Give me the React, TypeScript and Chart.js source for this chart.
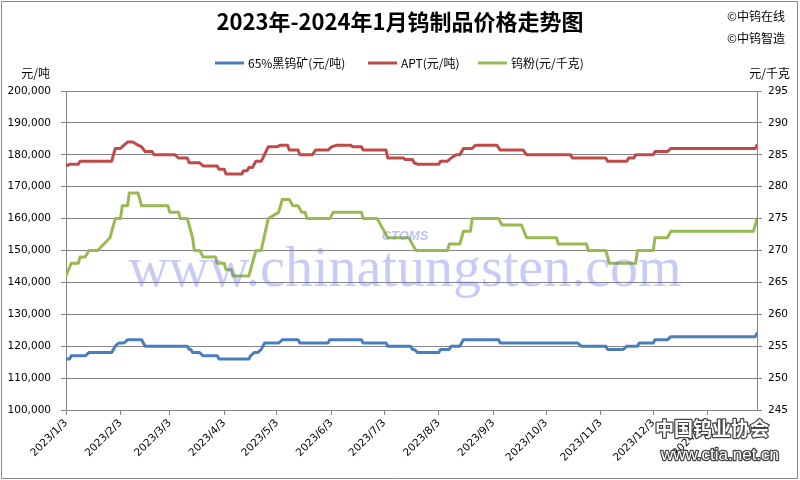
import React, { useEffect, useRef } from "react";
import { Chart, registerables } from "chart.js";

Chart.register(...registerables);

// ---------------- DATA ----------------
const titleText = "2023年-2024年1月钨制品价格走势图";
const seriesNames = ["65%黑钨矿(元/吨)", "APT(元/吨)", "钨粉(元/千克)"];

const xTickLabels = [
  "2023/1/3", "2023/2/3", "2023/3/3", "2023/4/3", "2023/5/3", "2023/6/3", "2023/7/3",
  "2023/8/3", "2023/9/3", "2023/10/3", "2023/11/3", "2023/12/3", "2024/1/3",
];

const oreDates = [
  "2023/1/3", "2023/1/5", "2023/1/6", "2023/1/14", "2023/1/16", "2023/1/29", "2023/1/31", "2023/2/2",
  "2023/2/5", "2023/2/7", "2023/2/15", "2023/2/17", "2023/3/13", "2023/3/14", "2023/3/15", "2023/3/16",
  "2023/3/20", "2023/3/22", "2023/3/30", "2023/3/31", "2023/4/17", "2023/4/18", "2023/4/20", "2023/4/22",
  "2023/4/24", "2023/4/26", "2023/5/4", "2023/5/6", "2023/5/15", "2023/5/16", "2023/6/1", "2023/6/2",
  "2023/6/20", "2023/6/21", "2023/7/4", "2023/7/5", "2023/7/18", "2023/7/19", "2023/7/20", "2023/7/22",
  "2023/8/3", "2023/8/4", "2023/8/9", "2023/8/10", "2023/8/15", "2023/8/17", "2023/9/6", "2023/9/7",
  "2023/10/21", "2023/10/23", "2023/11/6", "2023/11/7", "2023/11/16", "2023/11/18", "2023/11/24", "2023/11/25",
  "2023/12/3", "2023/12/4", "2023/12/11", "2023/12/13", "2024/1/30", "2024/1/31",
];
const oreValues = [
  116000, 116000, 117000, 117000, 118000, 118000, 120000, 121000,
  121000, 122000, 122000, 120000, 120000, 119000, 119000, 118000,
  118000, 117000, 117000, 116000, 116000, 117000, 118000, 118000,
  119000, 121000, 121000, 122000, 122000, 121000, 121000, 122000,
  122000, 121000, 121000, 120000, 120000, 119000, 119000, 118000,
  118000, 119000, 119000, 120000, 120000, 122000, 122000, 121000,
  121000, 120000, 120000, 119000, 119000, 120000, 120000, 121000,
  121000, 122000, 122000, 123000, 123000, 124000,
];

const aptDates = [
  "2023/1/3", "2023/1/5", "2023/1/10", "2023/1/11", "2023/1/29", "2023/1/31", "2023/2/3", "2023/2/5",
  "2023/2/7", "2023/2/10", "2023/2/13", "2023/2/15", "2023/2/17", "2023/2/21", "2023/2/22", "2023/3/6",
  "2023/3/8", "2023/3/13", "2023/3/14", "2023/3/20", "2023/3/22", "2023/3/30", "2023/3/31", "2023/4/3",
  "2023/4/4", "2023/4/13", "2023/4/14", "2023/4/16", "2023/4/17", "2023/4/19", "2023/4/21", "2023/4/24",
  "2023/4/25", "2023/4/28", "2023/5/3", "2023/5/5", "2023/5/9", "2023/5/10", "2023/5/15", "2023/5/16",
  "2023/5/23", "2023/5/25", "2023/6/1", "2023/6/3", "2023/6/6", "2023/6/14", "2023/6/15", "2023/6/20",
  "2023/6/21", "2023/7/4", "2023/7/5", "2023/7/14", "2023/7/15", "2023/7/19", "2023/7/20", "2023/7/22",
  "2023/8/3", "2023/8/4", "2023/8/8", "2023/8/10", "2023/8/13", "2023/8/15", "2023/8/17", "2023/8/22",
  "2023/8/24", "2023/9/5", "2023/9/7", "2023/9/20", "2023/9/22", "2023/10/17", "2023/10/18", "2023/11/6",
  "2023/11/7", "2023/11/18", "2023/11/19", "2023/11/22", "2023/11/23", "2023/12/3", "2023/12/4", "2023/12/11",
  "2023/12/13", "2024/1/30", "2024/1/31",
];
const aptValues = [
  176500, 177000, 177000, 178000, 178000, 182000, 182000, 183000,
  184000, 184000, 183000, 182500, 181000, 181000, 180000, 180000,
  179000, 179000, 177500, 177500, 176500, 176500, 175500, 175500,
  174000, 174000, 175000, 175000, 176000, 176000, 178000, 178000,
  179000, 182500, 182500, 183000, 183000, 181500, 181500, 180000,
  180000, 181500, 181500, 182500, 183000, 183000, 182500, 182500,
  181500, 181500, 179000, 179000, 178500, 178500, 177500, 177000,
  177000, 178000, 178000, 179000, 180000, 180000, 182000, 182000,
  183000, 183000, 181500, 181500, 180000, 180000, 179000, 179000,
  178000, 178000, 179000, 179000, 180000, 180000, 181000, 181000,
  182000, 182000, 183000,
];

const powderDates = [
  "2023/1/3", "2023/1/6", "2023/1/10", "2023/1/11", "2023/1/14", "2023/1/16", "2023/1/21", "2023/1/28",
  "2023/1/31", "2023/2/3", "2023/2/4", "2023/2/7", "2023/2/8", "2023/2/13", "2023/2/15", "2023/3/2",
  "2023/3/3", "2023/3/8", "2023/3/9", "2023/3/13", "2023/3/16", "2023/3/17", "2023/3/20", "2023/3/22",
  "2023/3/29", "2023/3/30", "2023/4/3", "2023/4/4", "2023/4/7", "2023/4/8", "2023/4/17", "2023/4/19",
  "2023/4/21", "2023/4/24", "2023/4/28", "2023/5/4", "2023/5/6", "2023/5/10", "2023/5/12", "2023/5/15",
  "2023/5/17", "2023/5/19", "2023/5/20", "2023/6/2", "2023/6/4", "2023/6/20", "2023/6/21", "2023/6/29",
  "2023/7/1", "2023/7/3", "2023/7/5", "2023/7/17", "2023/7/19", "2023/7/21", "2023/8/8", "2023/8/9",
  "2023/8/15", "2023/8/17", "2023/8/21", "2023/8/22", "2023/9/6", "2023/9/8", "2023/9/19", "2023/9/22",
  "2023/10/9", "2023/10/10", "2023/10/26", "2023/10/27", "2023/11/6", "2023/11/8", "2023/11/23", "2023/11/24",
  "2023/12/3", "2023/12/4", "2023/12/11", "2023/12/13", "2024/1/29", "2024/1/31",
];
const powderValues = [
  266, 268, 268, 269, 269, 270, 270, 272,
  275, 275, 277, 277, 279, 279, 277, 277,
  276, 276, 275, 275, 272, 270, 270, 269,
  269, 268, 268, 267, 267, 266, 266, 268,
  270, 270, 275, 276, 278, 278, 277, 277,
  276, 276, 275, 275, 276, 276, 275, 275,
  274, 273, 272, 272, 271, 270, 270, 271,
  271, 273, 273, 275, 275, 274, 274, 272,
  272, 271, 271, 270, 270, 268, 268, 270,
  270, 272, 272, 273, 273, 275,
];

// ---------------- HELPERS ----------------
const dayOf = (s: string) => {
  const [y, m, d] = s.split("/").map(Number);
  return Math.round((Date.UTC(y, m - 1, d) - Date.UTC(2023, 0, 3)) / 86400000);
};
const toPoints = (dates: string[], vals: number[]) => dates.map((d, i) => ({ x: dayOf(d), y: vals[i] }));

const COLORS = ["#4a7ebb", "#be4b48", "#98b954"];
const GRID = "#868686";
const TICK_FONT = { family: "DejaVu Sans", size: 10.5 };

const decorPlugin = {
  id: "decor",
  afterDraw(chart: any) {
    const ctx = chart.ctx as CanvasRenderingContext2D;
    const ca = chart.chartArea;
    ctx.save();
    // Title
    ctx.fillStyle = "#000";
    ctx.textAlign = "center";
    ctx.textBaseline = "middle";
    ctx.font = "bold 22px 'Noto Sans CJK SC'";
    ctx.fillText(titleText, 400, 22);
    // Copyright
    ctx.font = "12px 'Noto Sans CJK SC'";
    ctx.textAlign = "left";
    ctx.fillText("©中钨在线", 727, 16);
    ctx.fillText("©中钨智造", 727, 38);
    // Legend
    const legendX = [215, 368, 478];
    ctx.font = "12px 'Noto Sans CJK SC'";
    seriesNames.forEach((n, i) => {
      ctx.strokeStyle = COLORS[i];
      ctx.lineWidth = 3;
      ctx.beginPath();
      ctx.moveTo(legendX[i], 63);
      ctx.lineTo(legendX[i] + 29, 63);
      ctx.stroke();
      ctx.fillStyle = "#000";
      ctx.fillText(n, legendX[i] + 33, 63);
    });
    // Axis units
    ctx.textAlign = "right";
    ctx.fillText("元/吨", 50, 73);
    ctx.fillText("元/千克", 790, 73);
    // Watermark
    ctx.textAlign = "center";
    ctx.textBaseline = "alphabetic";
    ctx.font = "56px 'Liberation Serif'";
    ctx.fillStyle = "rgba(110,120,225,0.38)";
    ctx.fillText("www.chinatungsten.com", 405, 286);
    ctx.font = "italic bold 13px 'Liberation Sans'";
    ctx.fillStyle = "rgba(110,120,225,0.45)";
    ctx.fillText("CTOMS", 405, 240);
    // CTIA watermark
    ctx.lineJoin = "round";
    ctx.font = "bold 19px 'Noto Sans CJK SC'";
    ctx.lineWidth = 2.5;
    ctx.strokeStyle = "#444";
    ctx.strokeText("中国钨业协会", 712, 436);
    ctx.fillStyle = "#fff";
    ctx.fillText("中国钨业协会", 712, 436);
    ctx.font = "17px 'Liberation Sans'";
    ctx.strokeText("www.ctia.net.cn", 720, 460);
    ctx.fillText("www.ctia.net.cn", 720, 460);
    // Outer border
    ctx.strokeStyle = "#8a8a8a";
    ctx.lineWidth = 1;
    ctx.strokeRect(1.5, 1.5, 796, 477);
    ctx.restore();
  },
};

export default function App() {
  const ref = useRef<HTMLCanvasElement | null>(null);
  useEffect(() => {
    if (!ref.current) return;
    const xTickValues = xTickLabels.map(dayOf);
    const chart = new Chart(ref.current, {
      type: "line",
      data: {
        datasets: [
          { label: seriesNames[0], data: toPoints(oreDates, oreValues), yAxisID: "y", borderColor: COLORS[0], backgroundColor: COLORS[0] },
          { label: seriesNames[1], data: toPoints(aptDates, aptValues), yAxisID: "y", borderColor: COLORS[1], backgroundColor: COLORS[1] },
          { label: seriesNames[2], data: toPoints(powderDates, powderValues), yAxisID: "y1", borderColor: COLORS[2], backgroundColor: COLORS[2] },
        ],
      },
      options: {
        responsive: false,
        animation: false,
        devicePixelRatio: 1,
        layout: { padding: { top: 91, left: 0, right: 0, bottom: 0 } },
        elements: {
          line: { borderWidth: 3, tension: 0, borderJoinStyle: "round", borderCapStyle: "round" },
          point: { radius: 0, hoverRadius: 0 },
        },
        plugins: { legend: { display: false }, title: { display: false }, tooltip: { enabled: false } },
        scales: {
          x: {
            type: "linear",
            min: 0,
            max: dayOf(powderDates[powderDates.length - 1]),
            afterBuildTicks: (s: any) => { s.ticks = xTickValues.map((v) => ({ value: v })); },
            afterFit: (s: any) => { s.height = 70; },
            ticks: {
              autoSkip: false,
              maxRotation: 45,
              minRotation: 45,
              padding: 2,
              color: "#000",
              font: TICK_FONT,
              callback: (v: any) => { const i = xTickValues.indexOf(v); return i >= 0 ? xTickLabels[i] : ""; },
            },
            grid: { display: true, drawOnChartArea: false, drawTicks: true, tickLength: 5, color: GRID },
            border: { display: true, color: GRID, width: 1 },
          },
          y: {
            position: "left",
            min: 100000,
            max: 200000,
            afterFit: (s: any) => { s.width = 66; },
            ticks: {
              stepSize: 10000,
              padding: 10,
              color: "#000",
              font: TICK_FONT,
              callback: (v: any) => Number(v).toLocaleString("en-US"),
            },
            grid: { color: GRID, tickLength: 5, drawTicks: true },
            border: { display: true, color: GRID, width: 1 },
          },
          y1: {
            position: "right",
            min: 245,
            max: 295,
            afterFit: (s: any) => { s.width = 43; },
            ticks: { stepSize: 5, padding: 6, color: "#000", font: TICK_FONT },
            grid: { drawOnChartArea: false, color: GRID, tickLength: 5, drawTicks: true },
            border: { display: true, color: GRID, width: 1 },
          },
        },
      },
      plugins: [decorPlugin],
    });
    return () => chart.destroy();
  }, []);
  return (
    <div style={{ position: "fixed", left: 0, top: 0, width: 800, height: 480, background: "#fff" }}>
      <canvas ref={ref} width={800} height={480} style={{ display: "block", width: 800, height: 480 }} />
    </div>
  );
}
